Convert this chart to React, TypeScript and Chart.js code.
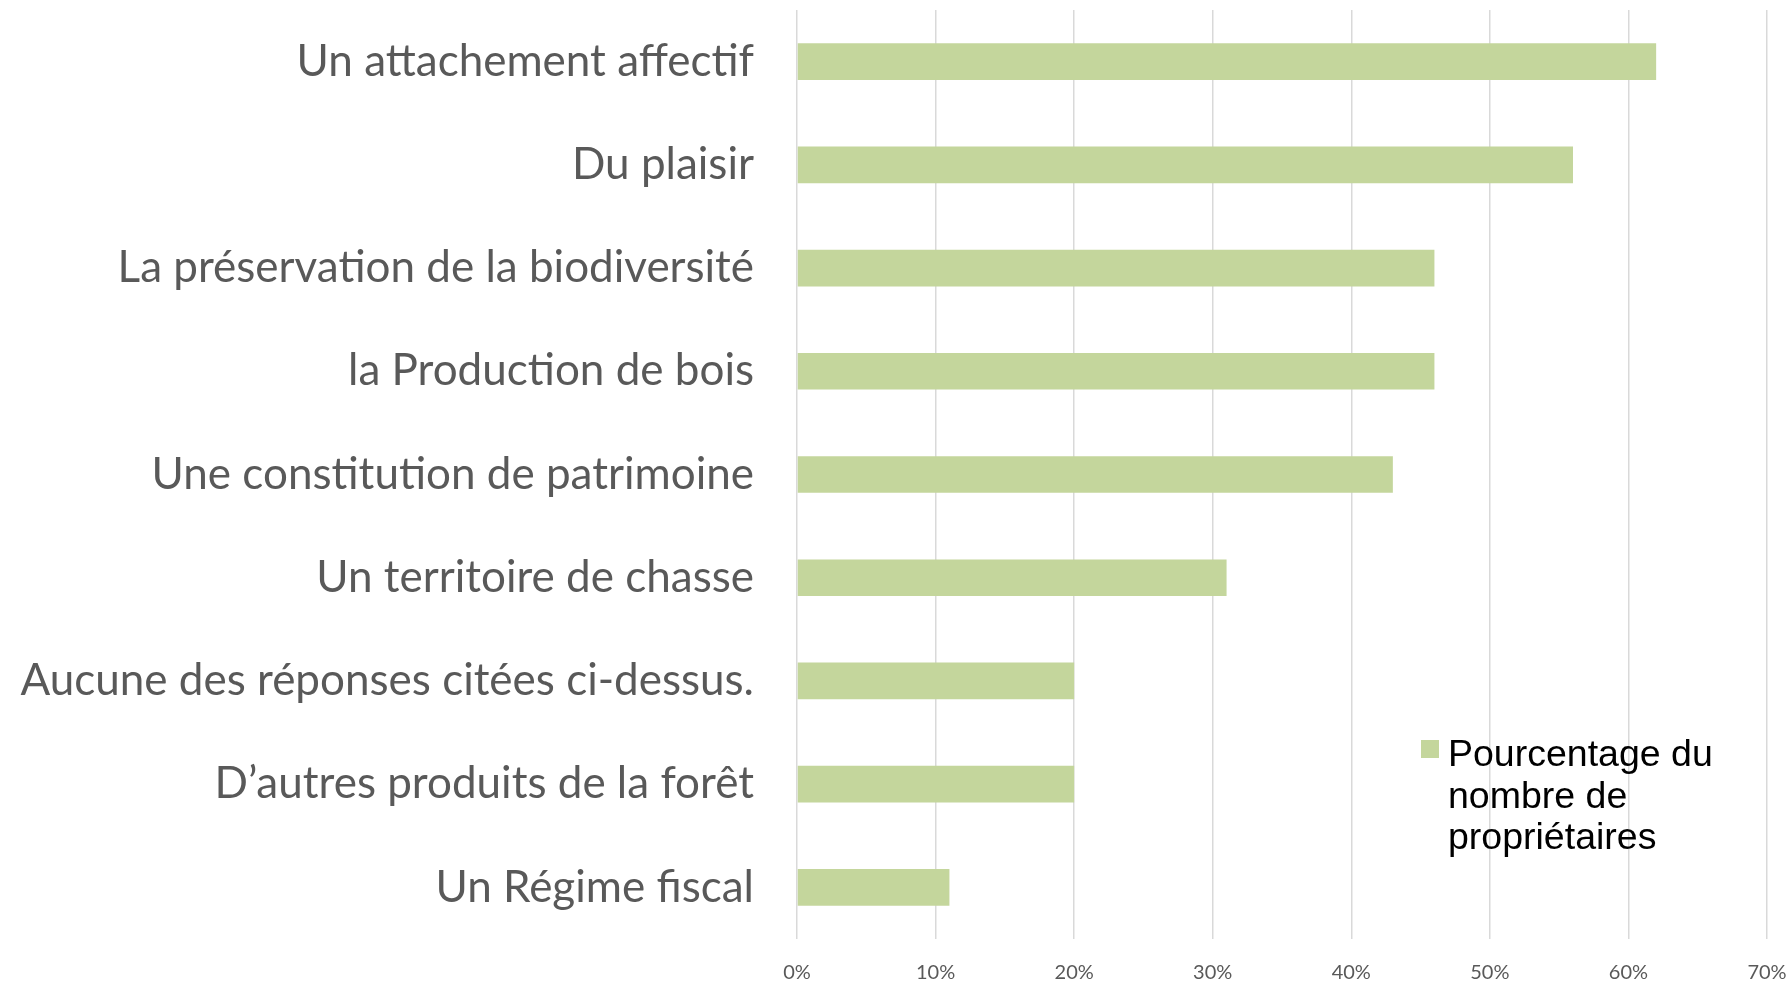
import React, { useEffect, useRef } from "react";
import { Chart, registerables } from "chart.js";

Chart.register(...registerables);

const CATEGORIES = [
  "Un attachement affectif",
  "Du plaisir",
  "La préservation de la biodiversité",
  "la Production de bois",
  "Une constitution de patrimoine",
  "Un territoire de chasse",
  "Aucune des réponses citées ci-dessus.",
  "D’autres produits de la forêt",
  "Un Régime fiscal",
];

const VALUES = [62, 56, 46, 46, 43, 31, 20, 20, 11];

const X_TICKS = [0, 10, 20, 30, 40, 50, 60, 70];

const LEGEND_LINES = ["Pourcentage du", "nombre de", "propriétaires"];

const BAR_COLOR = "#C4D69C";
const TEXT_GRAY = "#595959";

const legendPlugin = {
  id: "customLegend",
  afterDraw(chart: any) {
    const ctx = chart.ctx;
    const ds = chart.data.datasets[0];
    ctx.save();
    ctx.fillStyle = ds.backgroundColor;
    ctx.fillRect(1421, 740, 18, 18);
    ctx.fillStyle = "#000000";
    ctx.font = '37.5px "Liberation Sans", Arial, sans-serif';
    ctx.textAlign = "left";
    ctx.textBaseline = "middle";
    LEGEND_LINES.forEach((line, i) => {
      ctx.fillText(line, 1448, 756 + i * 41.5);
    });
    ctx.restore();
  },
};

export default function App() {
  const ref = useRef<HTMLCanvasElement | null>(null);

  useEffect(() => {
    if (!ref.current) return;
    const chart = new Chart(ref.current, {
      type: "bar",
      data: {
        labels: CATEGORIES,
        datasets: [
          {
            label: LEGEND_LINES.join(" "),
            data: VALUES,
            backgroundColor: BAR_COLOR,
            borderWidth: 0,
            categoryPercentage: 1,
            barPercentage: 0.355,
          },
        ],
      },
      options: {
        indexAxis: "y",
        animation: false,
        responsive: false,
        maintainAspectRatio: false,
        layout: { padding: { top: 10, right: 24, left: 0, bottom: 0 } },
        plugins: {
          legend: { display: false },
          tooltip: { enabled: false },
        },
        scales: {
          x: {
            min: 0,
            max: 70,
            afterBuildTicks: (scale: any) => {
              scale.ticks = X_TICKS.map((v) => ({ value: v }));
            },
            afterFit: (scale: any) => {
              scale.height = 43;
              scale.paddingLeft = 0;
              scale.paddingRight = 0;
              scale.paddingTop = 0;
              scale.paddingBottom = 0;
            },
            grid: {
              color: "#D9D9D9",
              lineWidth: 1.5,
              drawTicks: false,
            },
            border: { display: false },
            ticks: {
              padding: 22,
              color: TEXT_GRAY,
              font: { family: "Lato", size: 20 },
              callback: (v: any) => v + "%",
              maxRotation: 0,
            },
          },
          y: {
            afterFit: (scale: any) => {
              scale.width = 797;
              scale.paddingLeft = 0;
              scale.paddingRight = 0;
              scale.paddingTop = 0;
              scale.paddingBottom = 0;
            },
            grid: { display: false, drawTicks: false },
            border: { display: false },
            ticks: {
              padding: 43,
              color: TEXT_GRAY,
              font: { family: "Lato", size: 44 },
            },
          },
        },
      },
      plugins: [legendPlugin],
    });
    return () => chart.destroy();
  }, []);

  return (
    <div style={{ position: "absolute", left: 0, top: 0, width: 1791, height: 982, background: "#fff" }}>
      <canvas ref={ref} width={1791} height={982} />
    </div>
  );
}
